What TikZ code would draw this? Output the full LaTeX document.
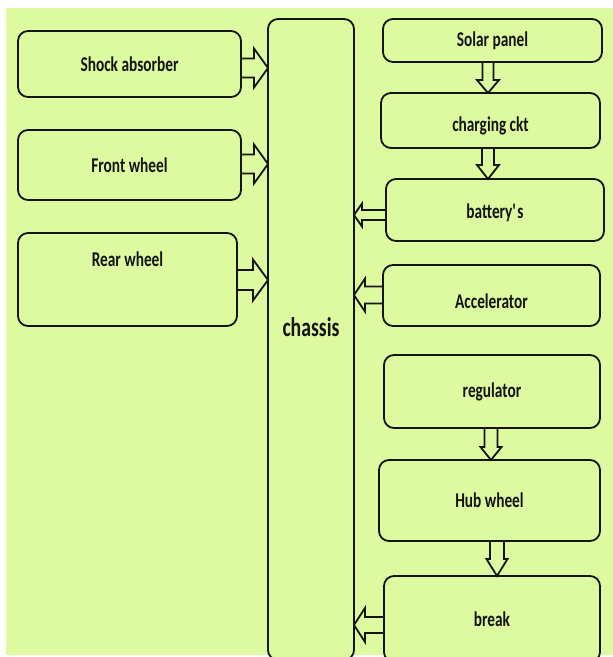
\documentclass[tikz,border=0pt]{standalone}
\usepackage{fontspec}
\setmainfont{Carlito}[FakeStretch=0.73]
\usetikzlibrary{calc}
\definecolor{bg}{RGB}{221,250,160}
\definecolor{ink}{RGB}{20,20,20}
\newcommand\harrow[5]{\draw[blk] ($(#1)+(0,#3)$) -- ($(#2)+({-(#5)},#3)$) -- ($(#2)+({-(#5)},#4)$) -- (#2) -- ($(#2)+({-(#5)},{-(#4)})$) -- ($(#2)+({-(#5)},{-(#3)})$) -- ($(#1)+(0,{-(#3)})$) -- cycle;}
\newcommand\varrow[5]{\draw[blk] ($(#1)+(#3,0)$) -- ($(#2)+(#3,{-(#5)})$) -- ($(#2)+(#4,{-(#5)})$) -- (#2) -- ($(#2)+({-(#4)},{-(#5)})$) -- ($(#2)+({-(#3)},{-(#5)})$) -- ($(#1)+({-(#3)},0)$) -- cycle;}
\begin{document}
\begin{tikzpicture}[x=1pt,y=-1pt,
  box/.style={draw=ink, line width=1.8pt, rounded corners=10pt, fill=bg, inner sep=0pt, outer sep=0pt,
    font=\fontsize{21}{24}\selectfont\bfseries, text=ink},
  blk/.style={draw=ink, line width=1.8pt, fill=bg, line join=miter}]
\useasboundingbox (0,0) rectangle (613,657);
\clip (0,0) rectangle (613,657);
\fill[bg] (6,8) rectangle (613,655);
% left column
\node[box, minimum width=223pt, minimum height=66pt] (sa) at (129.5,64) {Shock absorber};
\node[box, minimum width=223pt, minimum height=70pt] (fw) at (129.5,165) {Front wheel};
\node[box, minimum width=219pt, minimum height=93pt, text height=15pt, text depth=42pt] (rw) at (127.5,279.5) {Rear wheel};
% chassis
\node[box, minimum width=86pt, minimum height=641pt, font=\fontsize{27}{30}\selectfont\bfseries, text height=20pt, text depth=27pt] (ch) at (311,339.5) {chassis};
% right column
\node[box, minimum width=219pt, minimum height=43pt] (sp) at (492.5,40.5) {Solar panel};
\node[box, minimum width=219pt, minimum height=55pt, text height=23pt, text depth=1pt] (cc) at (490.5,120.5) {charging ckt};
\node[box, minimum width=218pt, minimum height=62pt, text height=17pt, text depth=1pt] (bat) at (495,210) {battery\textquotesingle s};
\node[box, minimum width=217pt, minimum height=61pt, text height=26pt, text depth=1pt] (acc) at (491.5,295.5) {Accelerator};
\node[box, minimum width=216pt, minimum height=73pt] (reg) at (492,391.5) {regulator};
\node[box, minimum width=221pt, minimum height=81pt] (hub) at (489.5,500.5) {Hub wheel};
\node[box, minimum width=216pt, minimum height=86pt] (brk) at (492,619) {break};
% helper coordinates
\coordinate (y1) at (0,68);
\coordinate (y2) at (0,164);
\coordinate (y3) at (0,280);
\coordinate (y4) at (0,215);
\coordinate (y5) at (0,295);
\coordinate (y6) at (0,625);
\coordinate (x7) at (488,0);
\coordinate (x8) at (488,0);
\coordinate (x9) at (491,0);
\coordinate (x10) at (497,0);
% block arrows
\harrow{sa.east |- y1}{ch.west |- y1}{9.5}{19.5}{14}
\harrow{fw.east |- y2}{ch.west |- y2}{9.5}{19.5}{14}
\harrow{rw.east |- y3}{ch.west |- y3}{10}{20.5}{15}
\harrow{bat.west |- y4}{ch.east |- y4}{5}{11.5}{-8}
\harrow{acc.west |- y5}{ch.east |- y5}{8.5}{16.5}{-11}
\harrow{brk.west |- y6}{ch.east |- y6}{8}{17}{-11}
\varrow{sp.south -| x7}{cc.north -| x7}{5.5}{11}{13}
\varrow{cc.south -| x8}{bat.north -| x8}{6}{11}{14}
\varrow{reg.south -| x9}{hub.north -| x9}{6.5}{10.5}{13}
\varrow{hub.south -| x10}{brk.north -| x10}{7}{10.5}{17}
\end{tikzpicture}
\end{document}
